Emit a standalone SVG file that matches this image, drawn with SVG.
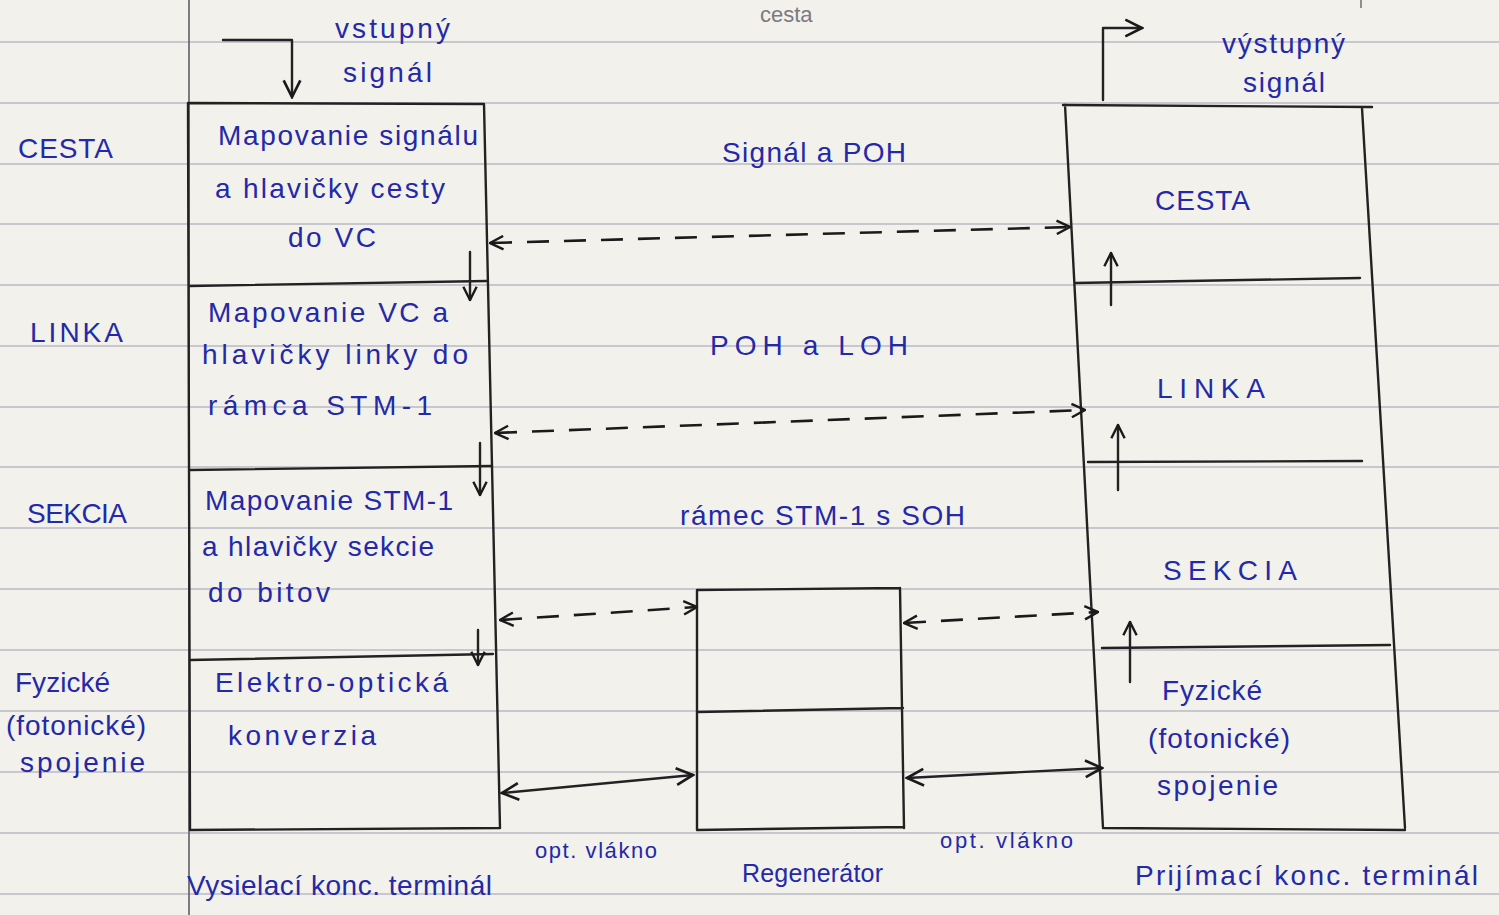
<svg xmlns="http://www.w3.org/2000/svg" width="1499" height="915" viewBox="0 0 1499 915">
<defs>
<style>
.rule{stroke:#b9b9c6;stroke-width:1.6;fill:none}
.ink{stroke:#222;stroke-width:2.4;fill:none;stroke-linecap:round;stroke-linejoin:round}
.dash{stroke:#1a1a1a;stroke-width:2.6;fill:none;stroke-dasharray:22 15}
.t{font-family:"Liberation Sans",Arial,sans-serif;font-size:28px;fill:#2329a8}
.lbl{font-family:"Liberation Sans",Arial,sans-serif;font-size:22px;fill:#2329a8}
.pencil{font-family:"Liberation Sans",Arial,sans-serif;font-size:22px;fill:#7a7a80}
</style>
<marker id="ah" viewBox="0 0 12 12" refX="11" refY="6" markerWidth="16" markerHeight="16" markerUnits="userSpaceOnUse" orient="auto-start-reverse">
<path d="M1,1 L11,6 L1,11" fill="none" stroke="#1a1a1a" stroke-width="1.8"/>
</marker>
<marker id="ahs" viewBox="0 0 12 12" refX="11" refY="6" markerWidth="20" markerHeight="20" markerUnits="userSpaceOnUse" orient="auto-start-reverse">
<path d="M1,1 L11,6 L1,11" fill="none" stroke="#1a1a1a" stroke-width="1.6"/>
</marker>
</defs>
<rect width="1499" height="915" fill="#f3f1eb"/>
<g id="paper">
<path class="rule" d="M0,42H1499M0,103H1499M0,164H1499M0,224H1499M0,285H1499M0,346H1499M0,407H1499M0,467H1499M0,528H1499M0,589H1499M0,650H1499M0,711H1499M0,772H1499M0,833H1499M0,894H1499"/>
<path d="M189,0V915" stroke="#6e6e74" stroke-width="1.8"/>
<path d="M1361,0V8" stroke="#6e6e74" stroke-width="1.5"/>
<text class="pencil" x="760" y="22">cesta</text>
</g>
<g id="layer-labels-left">
<text class="t" x="18" y="158" textLength="95">CESTA</text>
<text class="t" x="30" y="342" textLength="93">LINKA</text>
<text class="t" x="27" y="523" textLength="100">SEKCIA</text>
<text class="t" x="15" y="692" textLength="95">Fyzické</text>
<text class="t" x="6" y="735" textLength="140">(fotonické)</text>
<text class="t" x="20" y="772" textLength="125">spojenie</text>
</g>
<g id="transmit-terminal">
<path class="ink" d="M188,103 L484,104 M188,103 L190,830 M484,104 L500,828 M190,830 L500,828"/>
<path class="ink" d="M190,286 L487,281 M190,470 L492,466 M190,660 L493,654"/>
<text class="t" x="218" y="145" textLength="260">Mapovanie signálu</text>
<text class="t" x="215" y="198" textLength="230">a hlavičky cesty</text>
<text class="t" x="288" y="247" textLength="88">do VC</text>
<text class="t" x="208" y="322" textLength="240">Mapovanie VC a</text>
<text class="t" x="202" y="364" textLength="266">hlavičky linky do</text>
<text class="t" x="208" y="415" textLength="224">rámca STM-1</text>
<text class="t" x="205" y="510" textLength="248">Mapovanie STM-1</text>
<text class="t" x="202" y="556" textLength="232">a hlavičky sekcie</text>
<text class="t" x="208" y="602" textLength="122">do bitov</text>
<text class="t" x="215" y="692" textLength="233">Elektro-optická</text>
<text class="t" x="228" y="745" textLength="148">konverzia</text>
<text class="t" x="187" y="895" textLength="305">Vysielací konc. terminál</text>
</g>
<g id="regenerator">
<path class="ink" d="M697,590 L900,588 M697,590 L697,830 M900,588 L904,828 M697,830 L903,827 M697,712 L903,708"/>
<text class="t" x="742" y="882" textLength="141" style="font-size:25px">Regenerátor</text>
</g>
<g id="receive-terminal">
<path class="ink" d="M1063,105 L1372,107 M1065,105 L1103,828 M1362,108 L1405,828 M1103,828 L1405,830"/>
<path class="ink" d="M1075,283 L1360,278 M1088,462 L1362,461 M1102,648 L1390,645"/>
<text class="t" x="1155" y="210" textLength="95">CESTA</text>
<text class="t" x="1157" y="398" textLength="108">LINKA</text>
<text class="t" x="1163" y="580" textLength="134">SEKCIA</text>
<text class="t" x="1162" y="700" textLength="100">Fyzické</text>
<text class="t" x="1148" y="748" textLength="142">(fotonické)</text>
<text class="t" x="1157" y="795" textLength="121">spojenie</text>
<text class="t" x="1135" y="885" textLength="343">Prijímací konc. terminál</text>
</g>
<g id="connectors">
<path class="ink" d="M223,40 L292,40 L292,97" marker-end="url(#ahs)"/>
<path class="ink" d="M1103,100 L1103,28 L1142,28" marker-end="url(#ahs)"/>
<path class="ink" d="M470,252 L470,300" marker-end="url(#ah)"/>
<path class="ink" d="M480,443 L480,495" marker-end="url(#ah)"/>
<path class="ink" d="M478,630 L478,665" marker-end="url(#ah)"/>
<path class="ink" d="M1111,305 L1111,253" marker-end="url(#ah)"/>
<path class="ink" d="M1118,490 L1118,425" marker-end="url(#ah)"/>
<path class="ink" d="M1130,682 L1130,622" marker-end="url(#ah)"/>
<path class="dash" d="M490,243 L1070,227" marker-start="url(#ah)" marker-end="url(#ah)"/>
<path class="dash" d="M495,433 L1085,410" marker-start="url(#ah)" marker-end="url(#ah)"/>
<path class="dash" d="M500,620 L697,607" marker-start="url(#ah)" marker-end="url(#ah)"/>
<path class="dash" d="M904,623 L1098,612" marker-start="url(#ah)" marker-end="url(#ah)"/>
<path class="ink" d="M502,793 L693,775" marker-start="url(#ahs)" marker-end="url(#ahs)"/>
<path class="ink" d="M907,778 L1102,768" marker-start="url(#ahs)" marker-end="url(#ahs)"/>
</g>
<g id="connector-labels">
<text class="t" x="335" y="38" textLength="115">vstupný</text>
<text class="t" x="343" y="82" textLength="89">signál</text>
<text class="t" x="1222" y="53" textLength="123">výstupný</text>
<text class="t" x="1243" y="92" textLength="82">signál</text>
<text class="t" x="722" y="162" textLength="184">Signál a POH</text>
<text class="t" x="710" y="355" textLength="198">POH a LOH</text>
<text class="t" x="680" y="525" textLength="285">rámec STM-1 s SOH</text>
<text class="lbl" x="535" y="858" textLength="122">opt. vlákno</text>
<text class="lbl" x="940" y="848" textLength="133">opt. vlákno</text>
</g>
</svg>
